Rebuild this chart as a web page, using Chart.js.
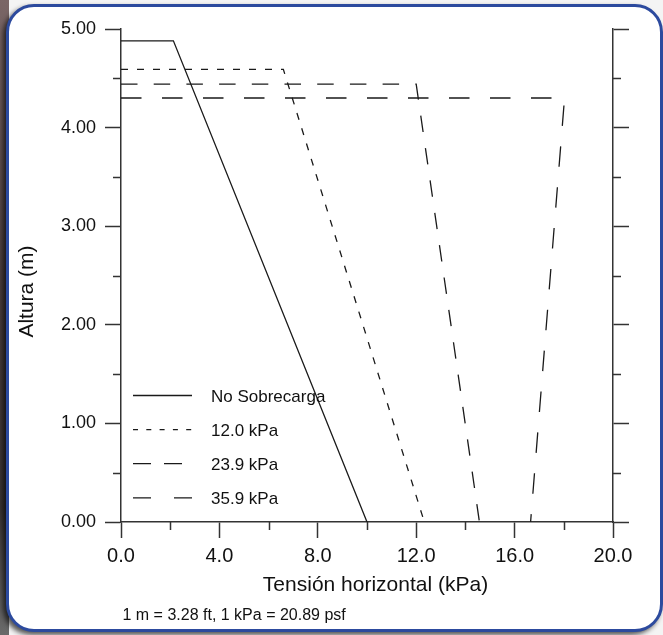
<!DOCTYPE html>
<html>
<head>
<meta charset="utf-8">
<script src="https://cdn.jsdelivr.net/npm/chart.js@4.4.0/dist/chart.umd.min.js"></script>
<style>
  html, body { margin: 0; padding: 0; background: #f4f4f4; overflow: hidden; }
  #strip { position: absolute; left: 0; top: 0; width: 9px; height: 635px;
    background: linear-gradient(to bottom, #7a6666 0%, #4a3d3d 45%, #3a3434 80%, #6a6a6a 100%); }
  #frame { position: absolute; left: 6px; top: 4px; width: 651px; height: 622px;
    border: 3px solid #2c4a9e; border-radius: 28px; background: #fff;
    box-shadow: -3px 3px 5px rgba(0,0,0,0.65); }
  #chart { position: absolute; left: 0; top: 0; }
</style>
</head>
<body>
<div id="strip"></div>
<div id="frame"></div>
<canvas id="chart" width="663" height="635"></canvas>
<script>
// Chart data
const seriesLabels = ['No Sobrecarga', '12.0 kPa', '23.9 kPa', '35.9 kPa'];

const stressNone = [0, 2.13, 10.0];
const heightNone = [4.88, 4.88, 0];

const stress12 = [0, 6.6, 12.33];
const height12 = [4.59, 4.59, 0];

const stress239 = [0, 12.0, 14.57];
const height239 = [4.44, 4.44, 0];

const stress359 = [0, 18.03, 16.65];
const height359 = [4.30, 4.30, 0];

const xTickLabels = ['0.0', '4.0', '8.0', '12.0', '16.0', '20.0'];
const yTickLabels = ['0.00', '1.00', '2.00', '3.00', '4.00', '5.00'];

const xTitle = 'Tensión horizontal (kPa)';
const yTitle = 'Altura (m)';
const footNote = '1 m = 3.28 ft, 1 kPa = 20.89 psf';

const axisColor = '#333333';
const lineColor = '#1a1a1a';
const textColor = '#111111';

function toPoints(xs, ys) {
  return xs.map((v, i) => ({ x: v, y: ys[i] }));
}

// Minor ticks, titles, legend and footnote
const extrasPlugin = {
  id: 'extras',
  afterDraw(chart) {
    const ctx = chart.ctx;
    const xs = chart.scales.x;
    const ys = chart.scales.y;
    const ys2 = chart.scales.y2;

    ctx.save();
    ctx.strokeStyle = axisColor;
    ctx.lineWidth = 1.5;
    ctx.beginPath();
    xs.ticks.forEach(t => {
      if (t.value % 4 !== 0) {
        const px = Math.round(xs.getPixelForValue(t.value)) + 0.5;
        ctx.moveTo(px, xs.top);
        ctx.lineTo(px, xs.top + 8);
      }
    });
    ys.ticks.forEach(t => {
      if (t.value % 1 !== 0) {
        const py = Math.round(ys.getPixelForValue(t.value)) + 0.5;
        ctx.moveTo(ys.right - 8, py);
        ctx.lineTo(ys.right, py);
        ctx.moveTo(ys2.left, py);
        ctx.lineTo(ys2.left + 8, py);
      }
    });
    ctx.stroke();

    // legend
    chart.data.datasets.forEach((ds, i) => {
      const rowY = 395.5 + i * 34.1;
      ctx.beginPath();
      ctx.lineWidth = ds.borderWidth;
      ctx.strokeStyle = ds.borderColor;
      ctx.setLineDash(ds.legendDash || []);
      ctx.moveTo(133, rowY);
      ctx.lineTo(192, rowY);
      ctx.stroke();
      ctx.setLineDash([]);
      ctx.fillStyle = textColor;
      ctx.font = '17px "Liberation Sans", Arial, sans-serif';
      ctx.textAlign = 'left';
      ctx.textBaseline = 'alphabetic';
      ctx.fillText(ds.label, 211, rowY + 6.5);
    });

    // axis titles
    ctx.fillStyle = textColor;
    ctx.font = '21px "Liberation Sans", Arial, sans-serif';
    ctx.textAlign = 'center';
    ctx.textBaseline = 'alphabetic';
    ctx.fillText(xTitle, 375.5, 590.5);

    ctx.save();
    ctx.translate(32.5, 291.5);
    ctx.rotate(-Math.PI / 2);
    ctx.fillText(yTitle, 0, 0);
    ctx.restore();

    ctx.font = '16px "Liberation Sans", Arial, sans-serif';
    ctx.textAlign = 'left';
    ctx.fillText(footNote, 122.5, 620);
    ctx.restore();
  }
};

const dashes = [[], [7, 9], [16.5, 16.2], [20.5, 20.5]];
const legendDashes = [[], [5, 8.3], [18, 13], [18, 23]];
const seriesData = [
  toPoints(stressNone, heightNone),
  toPoints(stress12, height12),
  toPoints(stress239, height239),
  toPoints(stress359, height359)
];

const ctx = document.getElementById('chart').getContext('2d');

new Chart(ctx, {
  type: 'line',
  data: {
    datasets: seriesLabels.map((label, i) => ({
      label: label,
      data: seriesData[i],
      borderColor: lineColor,
      borderWidth: 1.3,
      borderDash: dashes[i],
      legendDash: legendDashes[i],
      pointRadius: 0,
      fill: false,
      tension: 0
    }))
  },
  options: {
    responsive: false,
    animation: false,
    layout: {
      padding: { top: 29, left: 0, right: 0, bottom: 0 }
    },
    plugins: {
      legend: { display: false },
      tooltip: { enabled: false }
    },
    font: { family: '"Liberation Sans", Arial, sans-serif' },
    scales: {
      x: {
        type: 'linear',
        position: 'bottom',
        min: 0,
        max: 20,
        afterFit(scale) { scale.height = 113; },
        border: { display: true, color: axisColor, width: 1.5 },
        grid: {
          drawOnChartArea: false,
          drawTicks: true,
          tickLength: 16,
          tickWidth: 1.5,
          tickColor: c => (c.tick && c.tick.value % 4 === 0) ? axisColor : 'rgba(0,0,0,0)'
        },
        ticks: {
          stepSize: 2,
          autoSkip: false,
          maxRotation: 0,
          padding: 6,
          color: textColor,
          font: { size: 20, family: '"Liberation Sans", Arial, sans-serif' },
          callback: v => v % 4 === 0 ? xTickLabels[v / 4] : ''
        }
      },
      y: {
        type: 'linear',
        position: 'left',
        min: 0,
        max: 5,
        afterFit(scale) { scale.width = 121; },
        border: { display: true, color: axisColor, width: 1.5 },
        grid: {
          drawOnChartArea: false,
          drawTicks: true,
          tickLength: 16,
          tickWidth: 1.5,
          tickColor: c => (c.tick && c.tick.value % 1 === 0) ? axisColor : 'rgba(0,0,0,0)'
        },
        ticks: {
          stepSize: 0.5,
          autoSkip: false,
          padding: 9,
          color: textColor,
          font: { size: 18, family: '"Liberation Sans", Arial, sans-serif' },
          callback: v => v % 1 === 0 ? yTickLabels[v] : ''
        }
      },
      y2: {
        type: 'linear',
        position: 'right',
        min: 0,
        max: 5,
        afterFit(scale) { scale.width = 50; },
        border: { display: true, color: axisColor, width: 1.5 },
        grid: {
          drawOnChartArea: false,
          drawTicks: true,
          tickLength: 16,
          tickWidth: 1.5,
          tickColor: c => (c.tick && c.tick.value % 1 === 0) ? axisColor : 'rgba(0,0,0,0)'
        },
        ticks: {
          stepSize: 0.5,
          autoSkip: false,
          callback: () => ''
        }
      }
    }
  },
  plugins: [extrasPlugin]
});
</script>
</body>
</html>
